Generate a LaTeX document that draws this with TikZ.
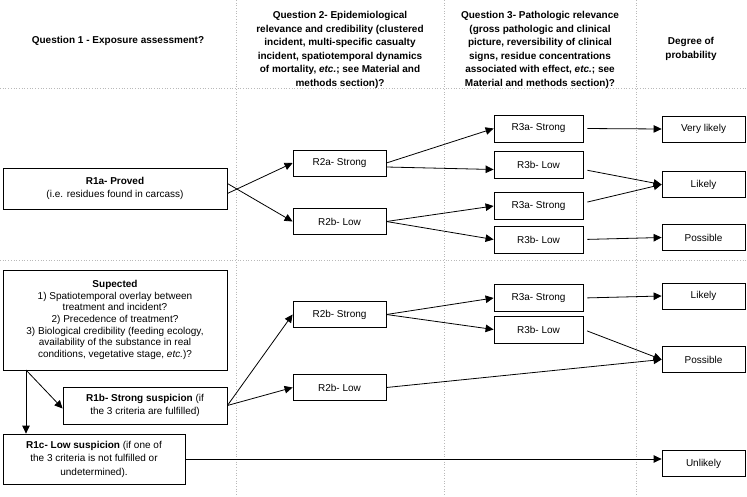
\documentclass[tikz,border=0pt]{standalone}
\usepackage{fontspec}
\setmainfont{Liberation Sans}
\usetikzlibrary{arrows.meta}

\begin{document}
\begin{tikzpicture}[x=1pt, y=-1pt,
    font=\fontsize{10}{13.5}\selectfont,
    box/.style={draw, line width=0.8pt, rectangle, align=center, inner sep=2pt},
    rbox/.style={box, minimum width=89pt, minimum height=26pt},
    pbox/.style={box, minimum width=83pt, minimum height=26pt},
    head/.style={align=center, font=\fontsize{10}{13.6}\selectfont\bfseries},
    sep/.style={gray!55, dotted, line width=0.7pt},
    link/.style={line width=0.8pt, -{Triangle[length=8pt, width=7.5pt]}}]
 \useasboundingbox (0,0) rectangle (747,497);
 % dotted grid
 \draw[sep] (0,88) -- (747,88);
 \draw[sep] (0,260) -- (747,260);
 \draw[sep] (236,0) -- (236,497);
 \draw[sep] (444,0) -- (444,497);
 \draw[sep] (636,0) -- (636,497);
 % headings
 \node[head] (q1) at (118,41) {Question 1 - Exposure assessment?};
 \node[head] (q2) at (340,50) {Question 2- Epidemiological\\relevance and credibility (clustered\\incident, multi-specific casualty\\incident, spatiotemporal dynamics\\of mortality, \emph{etc.}; see Material and\\methods section)?};
 \node[head] (q3) at (540,50) {Question 3- Pathologic relevance\\(gross pathologic and clinical\\picture, reversibility of clinical\\signs, residue concentrations\\associated with effect, \emph{etc.}; see\\Material and methods section)?};
 \node[head] (q4) at (691,49) {Degree of\\probability};
 % proved branch
 \node[box, minimum width=224pt, minimum height=41pt] (R1a) at (115,188.5)
    {\textbf{R1a- Proved}\\(i.e. residues found in carcass)};
 \node[rbox, minimum width=93pt] (R2a) at (339.5,163) {R2a- Strong};
 \node[rbox, minimum width=93pt] (R2b) at (339.5,221.5) {R2b- Low};
 \node[rbox, minimum height=27pt] (R3a) at (538.5,128.5) {R3a- Strong};
 \node[rbox, minimum height=27pt] (R3b) at (538.5,164.5) {R3b- Low};
 \node[rbox, minimum height=27pt] (R3c) at (538.5,206) {R3a- Strong};
 \node[rbox, minimum height=27pt] (R3d) at (538.5,239.5) {R3b- Low};
 \node[pbox] (vlikely) at (703.5,129) {Very likely};
 \node[pbox] (likely) at (703.5,184.5) {Likely};
 \node[pbox] (possible) at (703.5,237.5) {Possible};
 % suspected branch
 \node[box, minimum width=224pt, minimum height=100pt,
    font=\fontsize{10}{11.7}\selectfont] (sup) at (115,320)
    {\textbf{Supected}\\1) Spatiotemporal overlay between\\treatment and incident?\\2) Precedence of treatment?\\3) Biological credibility (feeding ecology,\\availability of the substance in real\\conditions, vegetative stage, \emph{etc.})?};
 \node[box, minimum width=164pt, minimum height=37pt] (R1b) at (145,405.5)
    {\textbf{R1b- Strong suspicion} (if\\the 3 criteria are fulfilled)};
 \node[box, minimum width=182pt, minimum height=50pt] (R1c) at (94,459)
    {\textbf{R1c- Low suspicion} (if one of\\the 3 criteria is not fulfilled or\\undetermined).};
 \node[rbox, minimum width=93pt] (R2c) at (339.5,314.5) {R2b- Strong};
 \node[rbox, minimum width=93pt] (R2d) at (339.5,387.5) {R2b- Low};
 \node[rbox, minimum height=27pt] (R3e) at (538.5,298) {R3a- Strong};
 \node[rbox, minimum height=27pt] (R3f) at (538.5,329.5) {R3b- Low};
 \node[pbox] (likely2) at (703.5,296) {Likely};
 \node[pbox] (possible2) at (703.5,359.5) {Possible};
 \node[pbox] (unlikely) at (703.5,463.5) {Unlikely};
 \coordinate (fork) at (26,370);
 % connectors
 \draw[link] ([yshift=-5pt]R1a.east) -- (R2a.west);
 \draw[link] ([yshift=5pt]R1a.east) -- (R2b.west);
 \draw[link] (R2a.east) -- (R3a.west);
 \draw[link] ([yshift=-4pt]R2a.east) -- ([yshift=-5pt]R3b.west);
 \draw[link] (R2b.east) -- (R3c.west);
 \draw[link] (R2b.east) -- (R3d.west);
 \draw[link, shorten <=4pt] (R3a.east) -- (vlikely.west);
 \draw[link, shorten <=4pt] ([yshift=-5pt]R3b.east) -- (likely.west);
 \draw[link, shorten <=4pt] ([yshift=3pt]R3c.east) -- (likely.west);
 \draw[link, shorten <=4pt] (R3d.east) -- (possible.west);
 \draw[link] (fork) -- ([yshift=-3pt]R1b.west);
 \draw[link] (fork) -- (fork |- R1c.north);
 \draw[link] (R1b.east) -- (R2c.west);
 \draw[link] (R1b.east) -- (R2d.west);
 \draw[link] (R2c.east) -- (R3e.west);
 \draw[link] (R2c.east) -- (R3f.west);
 \draw[link, shorten <=4pt] (R3e.east) -- (likely2.west);
 \draw[link, shorten <=4pt] (R3f.east) -- (possible2.west);
 \draw[link] (R2d.east) -- (possible2.west);
 \draw[link] (R1c.east) -- (R1c.east -| unlikely.west);
\end{tikzpicture}
\end{document}
